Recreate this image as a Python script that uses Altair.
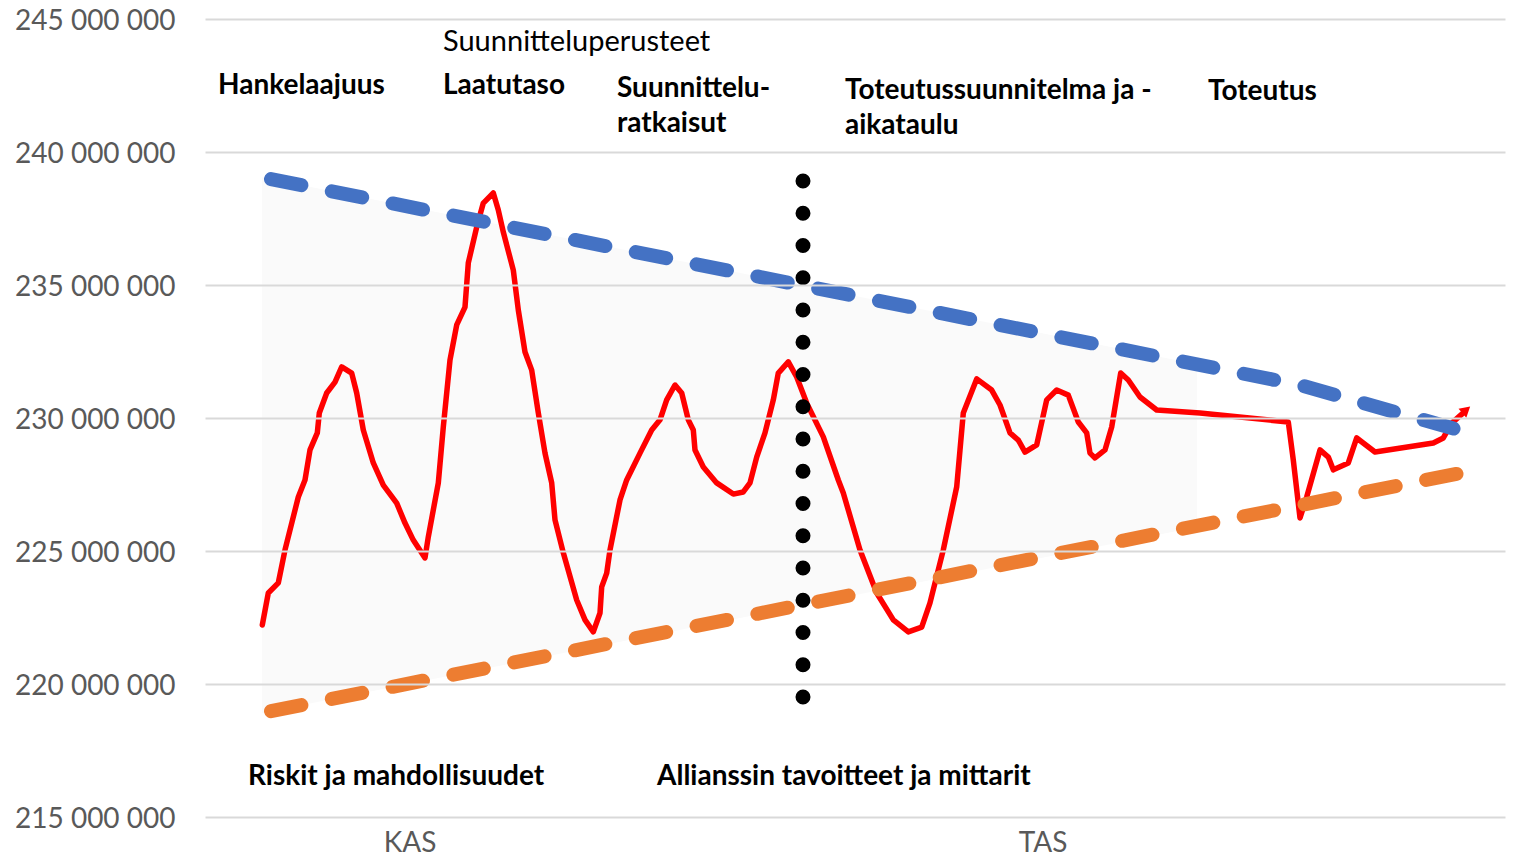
import altair as alt
import pandas as pd

# Red actual-cost curve (x = progress units, y = millions of euros)
red_x = [5.73, 6.33, 7.33, 8.0, 9.33, 10.0, 10.5, 11.23, 11.43, 12.17, 13.0, 13.67, 14.67, 15.17, 15.83,
         16.83, 17.83, 19.17, 20.0, 20.83, 22.0, 22.33, 23.33, 23.83, 24.5, 25.17, 26.0, 26.33, 27.17, 27.83,
         28.83, 29.33, 29.83, 30.83, 31.33, 32.0, 32.67, 33.33, 34.0, 34.67, 35.0, 35.83, 37.17, 38.0, 38.83,
         39.5, 39.67, 40.17, 40.5, 41.5, 42.17, 43.5, 44.67, 45.5, 46.17, 47.0, 47.67, 48.33, 48.83, 49.0,
         49.83, 51.17, 52.83, 53.83, 54.5, 55.17, 56.0, 56.83, 57.33, 58.33, 59.17, 60.17, 61.83, 63.33, 63.83,
         65.5, 67.17, 68.83, 70.33, 71.67, 72.5, 73.83, 75.17, 75.5, 75.83, 77.17, 78.67, 79.5, 80.5, 81.33,
         82.0, 83.17, 84.17, 85.17, 86.33, 87.33, 88.17, 88.5, 89.0, 90.0, 90.67, 91.57, 92.33, 93.5, 95.17,
         99.5, 108.33, 108.83, 109.5, 110.17, 111.5, 112.33, 112.83, 114.33, 115.17, 117.0, 122.83, 123.83,
         124.67, 125.83]
red_y = [222.22, 223.42, 223.80, 225.04, 227.03, 227.67, 228.80, 229.44, 230.19, 230.94, 231.35, 231.92, 231.69,
         230.94, 229.55, 228.31, 227.48, 226.80, 226.05, 225.41, 224.74, 225.53, 227.56, 229.66, 232.18, 233.50,
         234.17, 235.83, 237.18, 238.08, 238.46, 237.82, 236.99, 235.56, 234.06, 232.48, 231.80, 230.19, 228.68,
         227.56, 226.17, 224.93, 223.16, 222.41, 221.96, 222.67, 223.65, 224.17, 225.04, 226.92, 227.67, 228.68,
         229.55, 229.93, 230.68, 231.24, 230.94, 229.93, 229.55, 228.80, 228.16, 227.56, 227.14, 227.22, 227.56,
         228.53, 229.44, 230.68, 231.69, 232.11, 231.54, 230.56, 229.29, 227.67, 227.18, 225.04, 223.42, 222.41,
         221.96, 222.14, 223.05, 225.04, 227.41, 228.80, 230.19, 231.47, 231.05, 230.49, 229.44, 229.17, 228.72,
         228.99, 230.68, 231.05, 230.86, 229.85, 229.44, 228.68, 228.50, 228.80, 229.66, 231.69, 231.43, 230.79,
         230.30, 230.19, 229.85, 228.42, 226.24, 227.03, 228.80, 228.53, 228.05, 228.31, 229.25, 228.72, 229.06,
         229.25, 229.81, 230.19]

# Upper (blue) and lower (orange) boundary lines
upper_x = [6.6, 109.5, 126.1]
upper_y = [238.98, 231.24, 229.47]
lower_x = [6.6, 126.1]
lower_y = [218.98, 227.97]

# Faint shaded funnel
shade_x = [5.7, 99.2]
shade_top = [239.05, 232.02]
shade_bottom = [218.91, 225.90]

# Dotted divider (KAS / TAS)
divider_x = [59.8]
divider_top = [238.91]
divider_bottom = [219.51]

# Arrow head at end of red line
arrow_x = [126.0]
arrow_y = [230.26]

# Annotations
bold_text = ["Hankelaajuus", "Laatutaso", "Suunnittelu-", "ratkaisut", "Toteutussuunnitelma ja -",
             "aikataulu", "Toteutus", "Riskit ja mahdollisuudet", "Allianssin tavoitteet ja mittarit"]
bold_x = [1.3, 23.8, 41.2, 41.2, 64.0, 64.0, 100.3, 4.3, 45.2]
bold_y = [242.18, 242.18, 242.06, 240.75, 241.99, 240.67, 241.95, 216.22, 216.22]

plain_text = ["Suunnitteluperusteet"]
plain_x = [23.8]
plain_y = [243.78]

phase_text = ["KAS", "TAS"]
phase_x = [20.5, 83.8]
phase_y = [213.68, 213.68]

y_ticks = [215, 220, 225, 230, 235, 240, 245]

xs = alt.Scale(domain=[0, 130], nice=False, zero=False)
ys = alt.Scale(domain=[215, 245], nice=False, zero=False)
y_axis = alt.Axis(
    values=y_ticks, labelExpr="datum.value + ' 000 000'", labelFont="Lato", labelFontSize=28,
    labelColor="#595959", labelPadding=30, labelOffset=2, ticks=False, domain=False, grid=True,
    gridColor="#d9d9d9", gridWidth=2, title=None, zindex=1)

X = lambda f: alt.X(f, type="quantitative", scale=xs, axis=None)
Y = lambda f: alt.Y(f, type="quantitative", scale=ys, axis=y_axis)

shade = alt.Chart(pd.DataFrame({"x": shade_x, "top": shade_top, "bottom": shade_bottom})).mark_area(
    color="#fafafa").encode(x=X("x"), y=Y("top"), y2="bottom:Q")

red = alt.Chart(pd.DataFrame({"x": red_x, "y": red_y})).mark_line(
    color="#ff0000", strokeWidth=5.5, strokeJoin="round", strokeCap="round").encode(
    x=X("x"), y=Y("y"), order="x:Q")

arrow = alt.Chart(pd.DataFrame({"x": arrow_x, "y": arrow_y})).mark_point(
    shape="triangle", filled=True, color="#ff0000", opacity=1, angle=49, size=140).encode(x=X("x"), y=Y("y"))

upper = alt.Chart(pd.DataFrame({"x": upper_x, "y": upper_y})).mark_line(
    color="#4472c4", strokeWidth=14, strokeCap="round", strokeDash=[31, 31]).encode(x=X("x"), y=Y("y"))

lower = alt.Chart(pd.DataFrame({"x": lower_x, "y": lower_y})).mark_line(
    color="#ed7d31", strokeWidth=14, strokeCap="round", strokeDash=[31, 31]).encode(x=X("x"), y=Y("y"))

divider = alt.Chart(pd.DataFrame({"x": divider_x, "y": divider_top, "y2": divider_bottom})).mark_rule(
    color="black", strokeWidth=15, strokeCap="round", strokeDash=[0, 32.25]).encode(
    x=X("x"), y=Y("y"), y2="y2:Q")

bold = alt.Chart(pd.DataFrame({"x": bold_x, "y": bold_y, "t": bold_text})).mark_text(
    align="left", baseline="alphabetic", font="Lato", fontWeight="bold", fontSize=28, color="black").encode(
    x=X("x"), y=Y("y"), text="t:N")

plain = alt.Chart(pd.DataFrame({"x": plain_x, "y": plain_y, "t": plain_text})).mark_text(
    align="left", baseline="alphabetic", font="Lato", fontSize=29, color="black").encode(
    x=X("x"), y=Y("y"), text="t:N")

phase = alt.Chart(pd.DataFrame({"x": phase_x, "y": phase_y, "t": phase_text})).mark_text(
    align="center", baseline="alphabetic", font="Lato", fontSize=28, color="#595959").encode(
    x=X("x"), y=Y("y"), text="t:N")

chart = alt.layer(shade, red, arrow, upper, lower, divider, bold, plain, phase).properties(
    width=1300, height=798,
    autosize=alt.AutoSizeParams(type="none"),
    padding={"left": 197, "top": 11, "right": 1, "bottom": 40},
    background="white",
).configure_view(stroke=None)

chart.save("out.html", embed_options={"renderer": "svg", "actions": False})
